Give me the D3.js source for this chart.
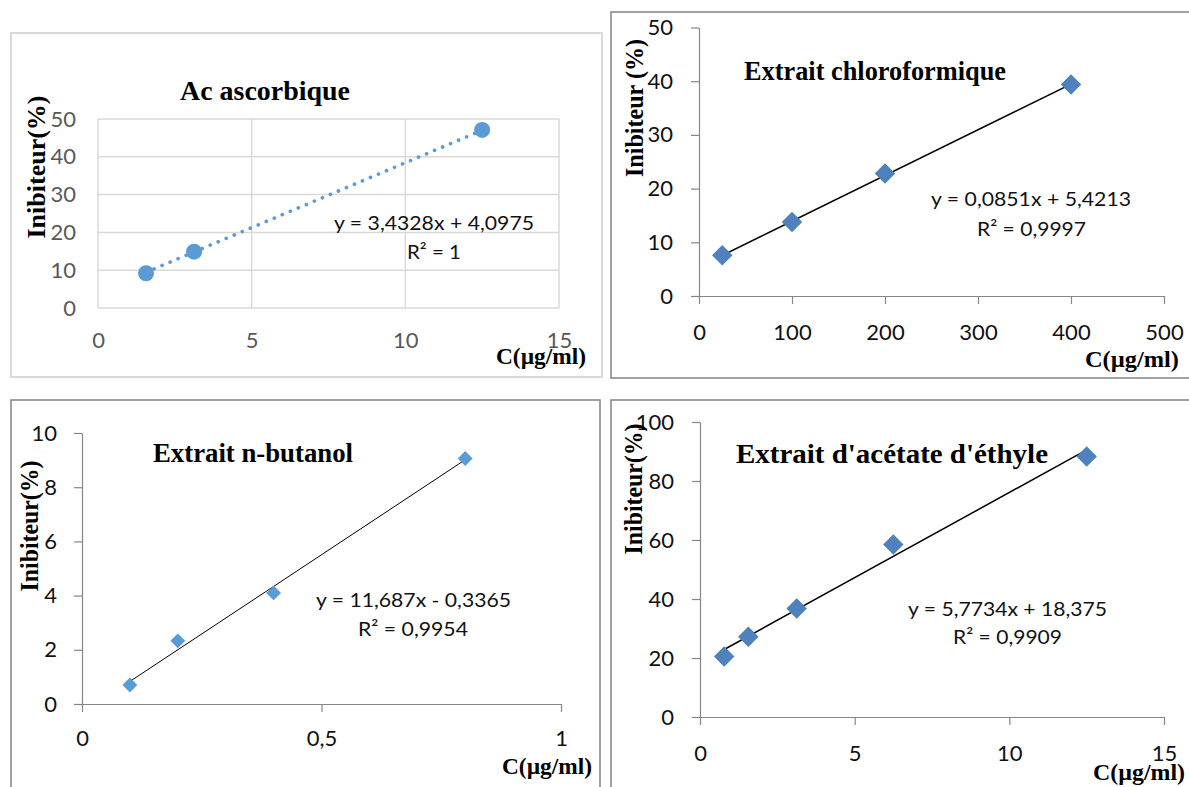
<!DOCTYPE html>
<html><head><meta charset="utf-8">
<script src="https://cdn.jsdelivr.net/npm/d3@7"></script>
<style>body{margin:0;background:#fff}</style>
</head><body>
<svg id="c" width="1189" height="787"></svg>
<script>
// ---------- data ----------
const acConc = [1.5625, 3.125, 12.5];
const acInhib = [9.2, 14.9, 47.1];
const acFit = [3.4328, 4.0975];
const acXTicks = [0, 5, 10, 15];
const acYTicks = [0, 10, 20, 30, 40, 50];

const chlConc = [25, 100, 200, 400];
const chlInhib = [7.6, 13.8, 22.8, 39.4];
const chlFit = [0.0851, 5.4213];
const chlXTicks = [0, 100, 200, 300, 400, 500];
const chlYTicks = [0, 10, 20, 30, 40, 50];

const butConc = [0.1, 0.2, 0.4, 0.8];
const butInhib = [0.7, 2.33, 4.1, 9.06];
const butFit = [11.687, -0.3365];
const butXTicks = [0, 0.5, 1];
const butYTicks = [0, 2, 4, 6, 8, 10];

const aceConc = [0.78125, 1.5625, 3.125, 6.25, 12.5];
const aceInhib = [20.5, 27.2, 36.8, 58.5, 88.3];
const aceFit = [5.7734, 18.375];
const aceXTicks = [0, 5, 10, 15];
const aceYTicks = [0, 20, 40, 60, 80, 100];

const titles = ["Ac ascorbique", "Extrait chloroformique", "Extrait n-butanol", "Extrait d'acétate d'éthyle"];
const eqLabels = ["y = 3,4328x + 4,0975", "y = 0,0851x + 5,4213", "y = 11,687x - 0,3365", "y = 5,7734x + 18,375"];
const r2Labels = ["R² = 1", "R² = 0,9997", "R² = 0,9954", "R² = 0,9909"];
const yLabels = ["Inibiteur(%)", "Inibiteur (%)", "Inibiteur(%)", "Inibiteur(%)"];
const xLabel = "C(µg/ml)";

// ---------- drawing ----------
const svg = d3.select("#c");
const fmt = d => String(d).replace(".", ",");
const serif = "'Liberation Serif','Times New Roman',serif";
const sans = "Lato,'Open Sans',sans-serif";

function panel(cfg) {
  const g = svg.append("g");
  g.append("rect").attr("x", cfg.box[0]).attr("y", cfg.box[1]).attr("width", cfg.box[2]).attr("height", cfg.box[3])
    .attr("fill", "#fff").attr("stroke", cfg.boxColor).attr("stroke-width", cfg.boxWidth);

  const x = d3.scaleLinear().domain(cfg.xDomain).range(cfg.xRange);
  const y = d3.scaleLinear().domain(cfg.yDomain).range(cfg.yRange);

  if (cfg.grid) {
    g.selectAll(".gx").data(cfg.xTicks).join("line")
      .attr("x1", d => x(d)).attr("x2", d => x(d)).attr("y1", cfg.yRange[0]).attr("y2", cfg.yRange[1])
      .attr("stroke", "#d9d9d9").attr("stroke-width", 1.5);
    g.selectAll(".gy").data(cfg.yTicks).join("line")
      .attr("y1", d => y(d)).attr("y2", d => y(d)).attr("x1", cfg.xRange[0]).attr("x2", cfg.xRange[1])
      .attr("stroke", "#d9d9d9").attr("stroke-width", 1.5);
  }

  const ax = g.append("g").attr("transform", `translate(0,${cfg.yRange[0]})`)
    .call(d3.axisBottom(x).tickValues(cfg.xTicks).tickFormat(fmt).tickSize(cfg.grid ? 0 : 8).tickSizeOuter(0).tickPadding(cfg.xPad));
  const ay = g.append("g").attr("transform", `translate(${cfg.xRange[0]},0)`)
    .call(d3.axisLeft(y).tickValues(cfg.yTicks).tickFormat(fmt).tickSize(cfg.grid ? 0 : 8).tickSizeOuter(0).tickPadding(cfg.yPad));
  [ax, ay].forEach(a => {
    a.selectAll("text").attr("font-family", sans).attr("font-size", 22).attr("fill", cfg.tickColor);
    a.selectAll("line").attr("stroke", "#868686").attr("stroke-width", 1.2);
    a.select(".domain").attr("stroke", cfg.grid ? "none" : "#868686").attr("stroke-width", 1.2);
  });

  // trendline
  const x0 = d3.min(cfg.xs), x1 = d3.max(cfg.xs);
  const tl = g.append("line")
    .attr("x1", x(x0)).attr("y1", y(cfg.fit[0] * x0 + cfg.fit[1]))
    .attr("x2", x(x1)).attr("y2", y(cfg.fit[0] * x1 + cfg.fit[1]));
  if (cfg.dotted) {
    tl.attr("stroke", "#5b9bd5").attr("stroke-width", 3.6).attr("stroke-linecap", "round").attr("stroke-dasharray", "0.1 8.6");
  } else {
    tl.attr("stroke", "#000").attr("stroke-width", cfg.lineWidth);
  }

  // markers
  const pts = cfg.xs.map((v, i) => [v, cfg.ys[i]]);
  if (cfg.circle) {
    g.selectAll(".pt").data(pts).join("circle")
      .attr("cx", d => x(d[0])).attr("cy", d => y(d[1])).attr("r", 8).attr("fill", cfg.color);
  } else {
    g.selectAll(".pt").data(pts).join("path")
      .attr("d", d3.symbol(d3.symbolSquare, cfg.mSize))
      .attr("transform", d => `translate(${x(d[0])},${y(d[1])}) rotate(45)`)
      .attr("fill", cfg.color);
  }

  // texts
  const t = cfg.text;
  g.append("text").attr("x", t.title[0]).attr("y", t.title[1]).attr("textLength", t.title[2]).attr("lengthAdjust", "spacingAndGlyphs")
    .attr("font-family", serif).attr("font-weight", "bold").attr("font-size", 27).text(cfg.title);
  g.append("text").attr("x", t.eq[0]).attr("y", t.eq[1]).attr("textLength", t.eq[2]).attr("lengthAdjust", "spacingAndGlyphs")
    .attr("font-family", sans).attr("font-size", 20).attr("fill", "#111").text(cfg.eq);
  g.append("text").attr("x", t.r2[0]).attr("y", t.r2[1]).attr("textLength", t.r2[2]).attr("lengthAdjust", "spacingAndGlyphs")
    .attr("font-family", sans).attr("font-size", 20).attr("fill", "#111").text(cfg.r2);
  g.append("text").attr("transform", `translate(${t.yl[0]},${t.yl[1]}) rotate(-90)`).attr("text-anchor", "middle").attr("dy", "0.32em")
    .attr("textLength", t.yl[2]).attr("lengthAdjust", "spacingAndGlyphs")
    .attr("font-family", serif).attr("font-weight", "bold").attr("font-size", 26).text(cfg.yLabel);
  g.append("text").attr("x", t.xl[0]).attr("y", t.xl[1]).attr("textLength", t.xl[2]).attr("lengthAdjust", "spacingAndGlyphs")
    .attr("font-family", serif).attr("font-weight", "bold").attr("font-size", 23).text(xLabel);
}

panel({
  box: [11, 33, 591, 344], boxColor: "#d9d9d9", boxWidth: 2,
  xDomain: [0, 15], xRange: [98, 559], yDomain: [0, 50], yRange: [308, 119],
  xTicks: acXTicks, yTicks: acYTicks, grid: true, xPad: 24, yPad: 22, tickColor: "#595959",
  xs: acConc, ys: acInhib, fit: acFit, dotted: true, circle: true, color: "#5b9bd5",
  title: titles[0], eq: eqLabels[0], r2: r2Labels[0], yLabel: yLabels[0],
  text: { title: [180, 100, 170], eq: [334, 230, 200], r2: [407, 259, 54], yl: [37, 167, 143], xl: [496, 364, 90] }
});
panel({
  box: [611, 12, 620, 366], boxColor: "#8a8a8a", boxWidth: 1.6,
  xDomain: [0, 500], xRange: [699, 1164], yDomain: [0, 50], yRange: [296, 27.5],
  xTicks: chlXTicks, yTicks: chlYTicks, grid: false, xPad: 20, yPad: 18, tickColor: "#111",
  xs: chlConc, ys: chlInhib, fit: chlFit, dotted: false, lineWidth: 1.5, circle: false, color: "#4f81bd", mSize: 210,
  title: titles[1], eq: eqLabels[1], r2: r2Labels[1], yLabel: yLabels[1],
  text: { title: [744, 80, 262], eq: [931, 206, 200], r2: [977, 236, 109], yl: [635, 108, 138], xl: [1085, 367, 94] }
});
panel({
  box: [11, 400, 589, 420], boxColor: "#8a8a8a", boxWidth: 1.6,
  xDomain: [0, 1], xRange: [82, 561], yDomain: [0, 10], yRange: [704, 433],
  xTicks: butXTicks, yTicks: butYTicks, grid: false, xPad: 18, yPad: 17, tickColor: "#111",
  xs: butConc, ys: butInhib, fit: butFit, dotted: false, lineWidth: 1, circle: false, color: "#5b9bd5", mSize: 110,
  title: titles[2], eq: eqLabels[2], r2: r2Labels[2], yLabel: yLabels[2],
  text: { title: [153, 462, 200], eq: [316, 607, 195], r2: [358, 636, 110], yl: [30, 526, 131], xl: [502, 774, 90] }
});
panel({
  box: [611, 400, 620, 420], boxColor: "#8a8a8a", boxWidth: 1.6,
  xDomain: [0, 15], xRange: [700, 1164], yDomain: [0, 100], yRange: [717, 422],
  xTicks: aceXTicks, yTicks: aceYTicks, grid: false, xPad: 20, yPad: 18, tickColor: "#111",
  xs: aceConc, ys: aceInhib, fit: aceFit, dotted: false, lineWidth: 1.5, circle: false, color: "#4f81bd", mSize: 210,
  title: titles[3], eq: eqLabels[3], r2: r2Labels[3], yLabel: yLabels[3],
  text: { title: [736, 463, 312], eq: [908, 616, 199], r2: [953, 644, 109], yl: [634, 489, 131], xl: [1093, 780, 92] }
});
</script>
</body></html>
